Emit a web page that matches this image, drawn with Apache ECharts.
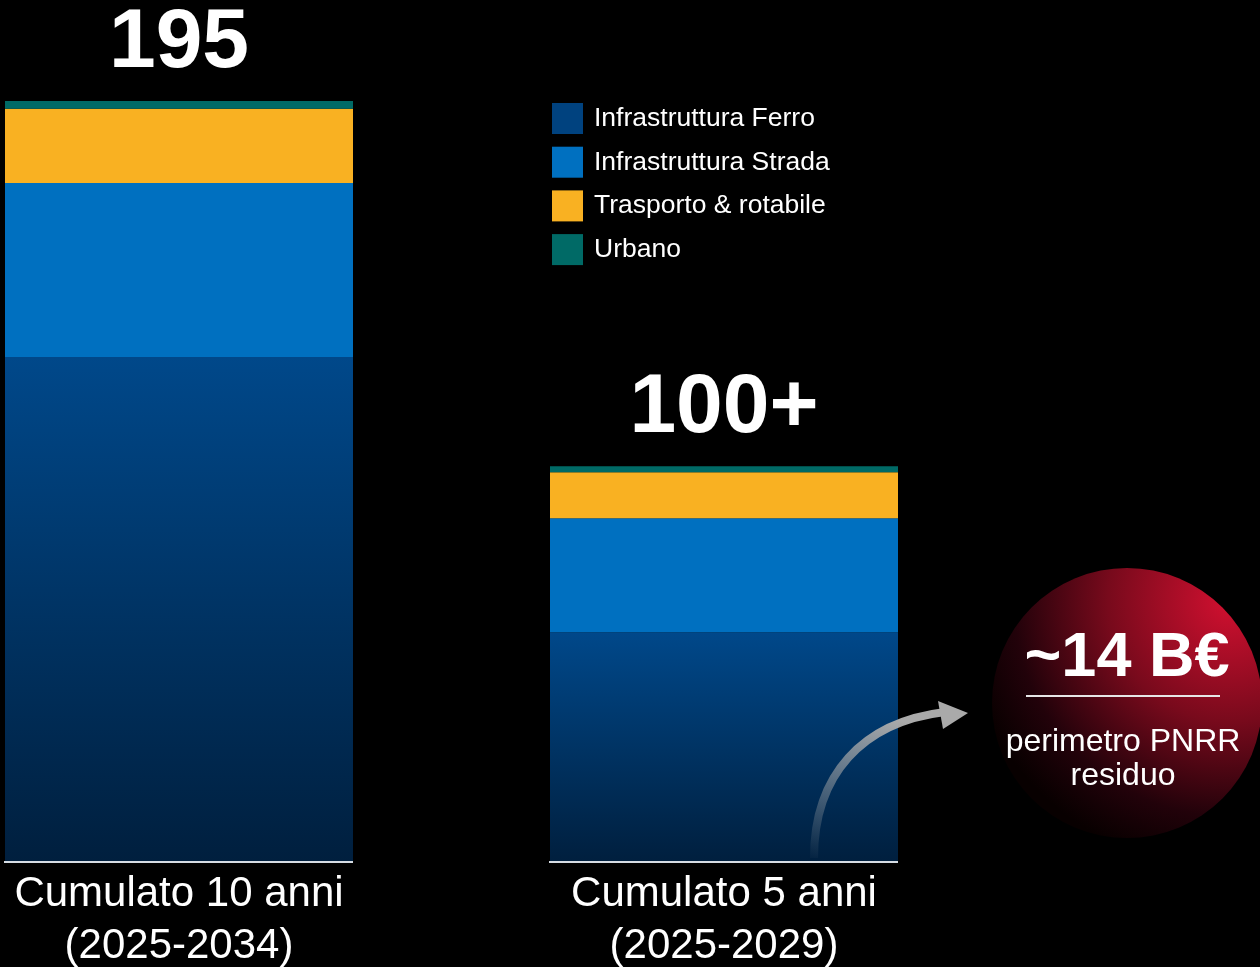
<!DOCTYPE html>
<html>
<head>
<meta charset="utf-8">
<style>
  html, body { margin: 0; padding: 0; background: #000; }
  #main { width: 1260px; height: 967px; }
</style>
<script src="https://cdn.jsdelivr.net/npm/echarts@6/dist/echarts.min.js"></script>
</head>
<body>
<div id="main"></div>
<script>
var categories = ['Cumulato 10 anni\n(2025-2034)', 'Cumulato 5 anni\n(2025-2029)'];
var ferro = [129.4, 58.9];
var strada = [44.6, 29.2];
var trasporto = [19.0, 11.8];
var urbano = [2.0, 1.5];
var totalLabels = ['195', '100+'];
var seriesNames = ['Infrastruttura Ferro', 'Infrastruttura Strada', 'Trasporto & rotabile', 'Urbano'];
var bubbleTitle = '~14 B€';
var bubbleText = 'perimetro PNRR\nresiduo';

var FONT = '"Liberation Sans", Arial, sans-serif';
var BAR_W = 348;

var chart = echarts.init(document.getElementById('main'), null, { renderer: 'canvas' });

var ferroGradient = new echarts.graphic.LinearGradient(0, 0, 0, 1, [
  { offset: 0, color: '#00488a' },
  { offset: 1, color: '#001f3e' }
]);

var option = {
  backgroundColor: '#000',
  textStyle: { fontFamily: FONT },
  // ticks sit on the bar centres (179 and 724), no boundary gap
  grid: { left: 179, right: 536, top: 81.5, bottom: 105, outerBoundsMode: 'none', containLabel: false },
  legend: {
    orient: 'vertical',
    left: 552,
    top: 103,
    padding: 0,
    itemWidth: 31,
    itemHeight: 31,
    itemGap: 12.7,
    icon: 'rect',
    selectedMode: false,
    textStyle: { color: '#fff', fontSize: 26.5, fontFamily: FONT, padding: [3, 0, 0, 6] },
    data: [
      { name: seriesNames[0], itemStyle: { color: '#00427f' } },
      { name: seriesNames[1] },
      { name: seriesNames[2] },
      { name: seriesNames[3] }
    ]
  },
  xAxis: {
    type: 'category',
    data: categories,
    boundaryGap: false,
    axisLine: { show: false },
    axisTick: { show: false },
    axisLabel: {
      color: '#fff',
      fontSize: 42,
      lineHeight: 52,
      margin: 6,
      fontFamily: FONT,
      interval: 0,
      showMinLabel: true,
      showMaxLabel: true
    }
  },
  yAxis: {
    type: 'value',
    min: 0,
    max: 200,
    show: false,
    splitLine: { show: false }
  },
  series: [
    {
      name: seriesNames[0], type: 'bar', stack: 'tot', barWidth: BAR_W, silent: true, clip: false,
      itemStyle: { color: ferroGradient },
      data: ferro
    },
    {
      name: seriesNames[1], type: 'bar', stack: 'tot', barWidth: BAR_W, silent: true, clip: false,
      itemStyle: { color: '#0070c0' },
      data: strada
    },
    {
      name: seriesNames[2], type: 'bar', stack: 'tot', barWidth: BAR_W, silent: true, clip: false,
      itemStyle: { color: '#f9b122' },
      data: trasporto
    },
    {
      name: seriesNames[3], type: 'bar', stack: 'tot', barWidth: BAR_W, silent: true, clip: false,
      itemStyle: { color: '#006a66' },
      label: {
        show: true,
        position: 'top',
        distance: 15,
        color: '#fff',
        fontSize: 84,
        lineHeight: 84,
        fontWeight: 'bold',
        fontFamily: FONT,
        formatter: function (p) { return totalLabels[p.dataIndex]; }
      },
      data: urbano
    },
    {
      // baseline under each bar
      type: 'custom',
      silent: true,
      clip: false,
      z: 5,
      data: categories.map(function (c, i) { return [i, 0]; }),
      encode: { x: 0, y: 1 },
      renderItem: function (params, api) {
        var p = api.coord([api.value(0), 0]);
        return {
          type: 'line',
          shape: { x1: p[0] - BAR_W / 2 - 1, y1: p[1], x2: p[0] + BAR_W / 2, y2: p[1] },
          style: { stroke: '#d6dce3', lineWidth: 2 }
        };
      }
    }
  ],
  graphic: [
    {
      type: 'circle',
      silent: true,
      z: 100,
      shape: { cx: 1127, cy: 703, r: 135 },
      style: {
        fill: new echarts.graphic.RadialGradient(0.88, 0.12, 1.0, [
          { offset: 0, color: '#d21030' },
          { offset: 0.45, color: '#780a1c' },
          { offset: 0.8, color: '#22020a' },
          { offset: 1, color: '#080000' }
        ])
      }
    },
    {
      type: 'text',
      silent: true,
      z: 101,
      x: 1127, y: 659,
      style: {
        text: bubbleTitle, fill: '#fff',
        font: 'bold 63px ' + FONT,
        textAlign: 'center', textVerticalAlign: 'middle'
      }
    },
    {
      type: 'line',
      silent: true,
      z: 101,
      shape: { x1: 1026, y1: 696, x2: 1220, y2: 696 },
      style: { stroke: '#e6e6e6', lineWidth: 2 }
    },
    {
      type: 'text',
      silent: true,
      z: 101,
      x: 1123, y: 759,
      style: {
        text: bubbleText, fill: '#fff',
        font: '32px ' + FONT,
        lineHeight: 34,
        textAlign: 'center', textVerticalAlign: 'middle'
      }
    },
    {
      type: 'bezierCurve',
      silent: true,
      z: 100,
      shape: { x1: 814, y1: 858, cpx1: 814, cpy1: 775, cpx2: 862, cpy2: 722, x2: 945, y2: 712 },
      style: {
        fill: null,
        lineWidth: 8,
        stroke: new echarts.graphic.LinearGradient(0, 1, 0.4, 0, [
          { offset: 0, color: 'rgba(170,170,170,0)' },
          { offset: 1, color: 'rgba(170,170,170,1)' }
        ])
      }
    },
    {
      type: 'polygon',
      silent: true,
      z: 100,
      shape: { points: [[938, 701], [968, 713], [943, 729]] },
      style: { fill: '#aaaaaa' }
    }
  ]
};

chart.setOption(option);
</script>
</body>
</html>
